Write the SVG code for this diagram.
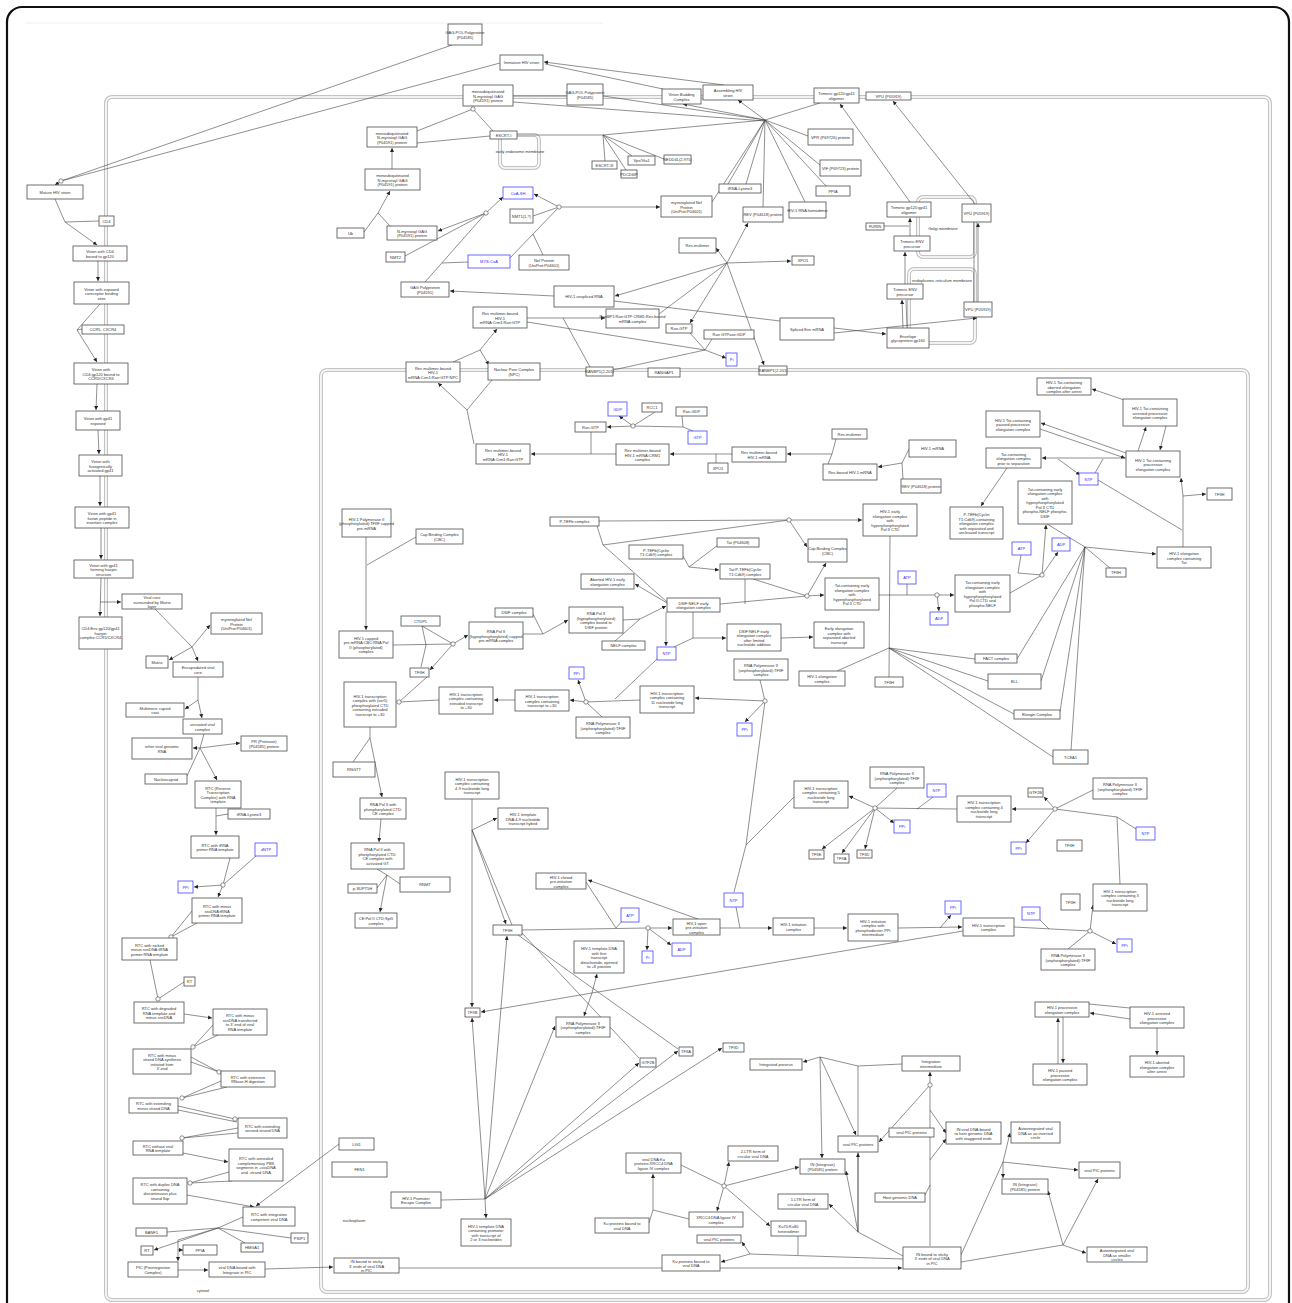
<svg xmlns="http://www.w3.org/2000/svg" width="1292" height="1303" viewBox="0 0 1292 1303">
<defs>
<marker id="ah" viewBox="0 0 10 10" refX="10" refY="5" markerWidth="4" markerHeight="4" markerUnits="userSpaceOnUse" orient="auto"><path d="M0,0 L10,5 L0,10 z" fill="#222"/></marker>
<style>
.nd rect{fill:#fff;stroke:#4d4d4d;stroke-width:0.8}
.nd text{font-family:"Liberation Sans",Arial,sans-serif;font-size:4px;fill:#333;text-anchor:middle;dominant-baseline:central}
.bl rect{stroke:#4848ff}
.bl text{fill:#2b2bff}
.cn path{fill:none;stroke:#444;stroke-width:0.6}
.cn .a{marker-end:url(#ah)}
.hub{fill:#fff;stroke:#444;stroke-width:0.6}
.cmp{fill:none;stroke:#c4c4c4;stroke-width:4}
.cmpi{fill:none;stroke:#fff;stroke-width:1.6}
.lbl{font-family:"Liberation Sans",Arial,sans-serif;font-size:4px;fill:#333}
</style>
</defs>
<rect width="1292" height="1303" fill="#fff"/>
<rect x="7" y="7" width="1282" height="1320" rx="15" fill="none" stroke="#111" stroke-width="2.2"/>
<line x1="25" y1="23" x2="603" y2="23" stroke="#eee" stroke-width="1"/>
<g id="compartments">
<rect class="cmp" x="106" y="97" width="1164" height="1203" rx="6"/><rect class="cmpi" x="106" y="97" width="1164" height="1203" rx="6"/>
<rect class="cmp" x="321" y="370" width="927" height="922" rx="6"/><rect class="cmpi" x="321" y="370" width="927" height="922" rx="6"/>
<rect class="cmp" x="918" y="197" width="57" height="60" rx="5"/><rect class="cmpi" x="918" y="197" width="57" height="60" rx="5"/>
<rect class="cmp" x="909" y="269" width="66" height="74" rx="5"/><rect class="cmpi" x="909" y="269" width="66" height="74" rx="5"/>
<rect class="cmp" x="500" y="135" width="39" height="33" rx="5"/><rect class="cmpi" x="500" y="135" width="39" height="33" rx="5"/>
<text class="lbl" x="203" y="1292" text-anchor="middle">cytosol</text>
<text class="lbl" x="354" y="1222" text-anchor="middle">nucleoplasm</text>
<text class="lbl" x="943" y="230" text-anchor="middle">Golgi membrane</text>
<text class="lbl" x="912" y="282">endoplasmic reticulum membrane</text>
<text class="lbl" x="520" y="153" text-anchor="middle">early endosome membrane</text>
</g>
<g id="connectors" class="cn">
<path d="M452 45 L61 181"/><path d="M500 63 L61 181"/><path class="a" d="M61 181 L55 185"/>
<path class="a" d="M724 85 L544 62"/><path d="M663 89 L545 64"/>
<path d="M513 96 L567 96"/><path d="M603 96 L765 120"/><path d="M513 102 L765 121"/>
<path d="M517 135 L603 135"/><path d="M603 135 L765 120"/>
<path d="M603 135 L605 161"/><path d="M603 135 L632 156"/><path d="M603 135 L626 170"/><path d="M603 135 L664 159"/>
<path class="a" d="M765 120 L683 104"/><path class="a" d="M765 120 L738 100"/><path d="M765 120 L820 103"/><path d="M765 120 L808 136"/><path d="M765 120 L820 165"/><path d="M765 120 L826 186"/><path d="M765 120 L805 202"/><path d="M765 120 L763 207"/><path d="M765 120 L728 184"/><path d="M765 120 L746 184"/><path d="M765 120 L712 202"/>
<path d="M417 131 L473 109"/><path d="M493 131 L473 109"/>
<path d="M417 143 L490 136"/>
<path class="a" d="M392 169 L392 148"/>
<path d="M364 232 L378 213"/><path d="M390 226 L378 213"/><path class="a" d="M378 213 L390 191"/>
<path class="a" d="M486 213 L438 231"/><path d="M405 256 L486 213"/><path d="M425 282 L486 213"/><path class="a" d="M486 213 L503 197"/><path d="M468 262 L442 263"/>
<path class="a" d="M559 207 L534 194"/><path d="M533 216 L559 207"/><path d="M510 258 L559 207"/><path d="M543 255 L533 234"/><path class="a" d="M559 207 L660 207"/>
<path class="a" d="M727 263 L716 248"/><path class="a" d="M727 263 L791 261"/><path class="a" d="M727 263 L748 223"/><path class="a" d="M727 263 L690 323"/><path class="a" d="M727 263 L764 365"/><path class="a" d="M727 263 L615 296"/><path d="M659 314 L727 263"/>
<path d="M614 301 L780 321"/>
<path class="a" d="M554 296 L450 291"/>
<path class="a" d="M527 318 L605 318"/><path d="M590 367 L563 318"/>
<path d="M527 322 L705 350"/><path d="M613 370 L705 350"/><path d="M690 333 L705 350"/><path class="a" d="M705 350 L726 358"/><path d="M705 350 L712 339"/>
<path d="M453 362 L480 350"/><path class="a" d="M480 350 L497 329"/><path class="a" d="M480 350 L489 365"/>
<path class="a" d="M467 410 L438 383"/><path d="M492 380 L467 410"/><path d="M474 444 L467 410"/>
<path class="a" d="M616 454 L531 454"/><path d="M591 432 L591 454"/>
<path class="a" d="M633 426 L607 427"/><path class="a" d="M633 426 L619 416"/><path d="M655 412 L633 426"/><path d="M683 427 L633 426"/><path d="M682 416 L683 427"/><path d="M693 431 L683 427"/>
<path class="a" d="M732 454 L670 454"/><path d="M716 463 L716 454"/>
<path class="a" d="M832 454 L787 454"/><path d="M836 439 L832 454"/><path d="M828 464 L832 454"/>
<path class="a" d="M902 463 L878 467"/><path d="M909 449 L902 463"/><path d="M903 479 L902 463"/>
<path class="a" d="M834 328 L886 334"/><path class="a" d="M834 333 L977 318"/>
<path class="a" d="M903 328 L902 300"/><path d="M907 328 L906 300"/>
<path class="a" d="M905 284 L905 252"/>
<path class="a" d="M910 236 L910 218"/><path d="M884 226 L909 226"/>
<path class="a" d="M910 202 L840 104"/>
<path class="a" d="M975 204 L893 101"/>
<path class="a" d="M978 302 L978 223"/><path d="M974 302 L974 222"/>
<path class="a" d="M55 199 L65 222 L97 245"/><path d="M99 221 L65 222"/>
<path class="a" d="M98 261 L98 281"/>
<path class="a" d="M100 304 L77 330 L97 362"/><path d="M82 329 L77 330"/>
<path class="a" d="M97 384 L96 410"/>
<path class="a" d="M98 430 L99 454"/>
<path class="a" d="M100 476 L100 506"/>
<path class="a" d="M101 528 L101 559"/>
<path class="a" d="M101 578 L100 616"/><path class="a" d="M100 602 L121 602"/>
<path class="a" d="M155 609 L192 647 L198 661"/><path class="a" d="M192 647 L169 660"/><path class="a" d="M192 647 L210 625"/>
<path class="a" d="M198 677 L198 700 L185 709"/><path class="a" d="M198 700 L202 718"/>
<path d="M204 734 L200 748"/><path class="a" d="M200 748 L193 748"/><path class="a" d="M200 748 L240 743"/><path d="M200 748 L187 776"/><path class="a" d="M200 748 L217 780"/>
<path class="a" d="M216 808 L216 816 L216 835"/><path d="M228 814 L216 816"/>
<path d="M230 858 L223 885"/><path d="M256 856 L223 885"/><path class="a" d="M223 885 L194 887"/><path class="a" d="M223 885 L218 897"/>
<path d="M192 911 L171 937"/><path d="M197 923 L171 937"/>
<path d="M150 960 L158 999"/><path d="M184 982 L158 999"/>
<path class="a" d="M184 1014 L212 1018"/>
<path d="M213 1025 L193 1047"/><path d="M218 1035 L193 1047"/>
<path d="M191 1057 L219 1072"/><path d="M191 1062 L219 1072"/>
<path d="M221 1081 L182 1098"/><path d="M227 1087 L182 1098"/>
<path d="M178 1106 L235 1119"/><path d="M178 1110 L237 1122"/>
<path d="M238 1128 L182 1138"/><path d="M238 1133 L182 1138"/>
<path class="a" d="M183 1153 L228 1162"/>
<path d="M229 1172 L190 1183"/><path d="M232 1181 L190 1183"/>
<path class="a" d="M187 1195 L254 1207"/>
<path class="a" d="M339 1144 L256 1206"/>
<path d="M243 1217 L218 1228"/><path d="M218 1228 L167 1232"/><path d="M218 1228 L291 1238"/><path d="M218 1228 L245 1243"/><path class="a" d="M218 1228 L154 1250"/><path class="a" d="M218 1228 L178 1240 L178 1261"/><path class="a" d="M178 1250 L183 1250"/>
<path class="a" d="M178 1270 L208 1270"/>
<path class="a" d="M265 1269 L333 1267"/>
<path class="a" d="M399 1268 L902 1268"/>
<path class="a" d="M366 537 L366 630"/><path d="M416 537 L367 565"/>
<path d="M393 645 L453 644"/><path d="M422 626 L453 644"/><path d="M422 626 L426 645 L421 667"/><path class="a" d="M453 644 L468 635"/><path class="a" d="M453 644 L430 670"/>
<path d="M439 700 L399 702"/><path d="M427 677 L399 702"/><path d="M399 702 L397 702"/>
<path class="a" d="M523 634 L543 634 L568 620"/><path d="M533 614 L543 634"/>
<path class="a" d="M623 620 L640 619 L666 606"/><path d="M615 641 L640 619"/>
<path d="M597 526 L603 545 L667 602"/><path d="M603 545 L640 540 L789 520"/><path d="M599 521 L789 520"/><path class="a" d="M789 520 L862 520"/><path class="a" d="M789 520 L807 547"/>
<path class="a" d="M667 603 L635 584"/>
<path class="a" d="M683 556 L689 567 L719 570"/><path d="M718 545 L689 567"/>
<path d="M753 579 L807 596"/><path d="M720 604 L807 596"/><path d="M745 579 L745 604"/><path class="a" d="M807 596 L824 595"/><path class="a" d="M807 596 L826 563"/>
<path class="a" d="M693 612 L693 638 L726 638"/><path d="M674 647 L693 638"/><path class="a" d="M666 612 L666 646"/>
<path class="a" d="M781 638 L813 637"/>
<path d="M890 536 L889 677"/><path d="M837 671 L889 648"/><path d="M889 648 L975 659"/><path d="M889 648 L988 681"/><path d="M889 648 L1014 714"/><path d="M889 648 L1053 757"/>
<path class="a" d="M879 595 L937 595 L954 595"/><path d="M907 584 L907 595"/><path class="a" d="M937 595 L939 611"/>
<path d="M1010 593 L1042 575"/><path d="M1021 555 L1018 573 L1042 575"/><path class="a" d="M1042 575 L1046 525"/><path class="a" d="M1042 575 L1058 552"/>
<path d="M1047 524 L1085 547"/><path class="a" d="M1085 547 L1156 554"/><path d="M1085 547 L1110 568"/><path d="M1085 547 L1017 659"/><path d="M1085 547 L1041 681"/><path d="M1085 547 L1060 712"/><path d="M1085 547 L1071 750"/>
<path class="a" d="M1183 547 L1183 496 L1181 478"/><path class="a" d="M1183 496 L1206 494"/><path d="M1098 480 L1182 530"/>
<path class="a" d="M1126 458 L1042 458"/><path class="a" d="M1058 459 L1080 475"/><path d="M1095 473 L1103 459"/>
<path class="a" d="M1007 468 L981 506"/>
<path class="a" d="M1138 451 L1146 427"/><path class="a" d="M1166 426 L1160 450"/>
<path class="a" d="M1130 402 L1092 389"/>
<path class="a" d="M1126 453 L1041 423"/><path class="a" d="M1040 429 L1125 458"/>
<path d="M640 700 L586 702"/><path class="a" d="M586 702 L570 700"/><path d="M602 717 L586 702"/><path class="a" d="M586 702 L578 680"/><path d="M615 699 L657 659"/>
<path class="a" d="M515 700 L494 700"/>
<path d="M760 680 L765 701"/><path class="a" d="M765 701 L695 698"/><path class="a" d="M765 701 L745 722"/><path d="M765 701 L746 845"/><path d="M794 797 L746 845"/><path d="M746 845 L734 892"/>
<path class="a" d="M370 727 L370 738 L382 797"/><path d="M353 762 L370 738"/>
<path class="a" d="M381 819 L379 842"/>
<path class="a" d="M377 869 L387 875 L380 912"/><path d="M377 888 L387 875"/><path d="M400 884 L387 875"/>
<path class="a" d="M472 799 L472 830 L472 1007"/><path class="a" d="M472 830 L497 818"/><path class="a" d="M472 830 L506 924"/><path d="M472 830 L512 925"/>
<path class="a" d="M963 931 L592 993 L481 1012"/><path class="a" d="M592 993 L597 974"/><path class="a" d="M592 993 L584 1016"/>
<path class="a" d="M485 1199 L472 1018"/><path class="a" d="M485 1199 L507 936"/><path class="a" d="M485 1199 L555 1026"/><path class="a" d="M485 1199 L639 1063"/><path class="a" d="M485 1199 L678 1051"/><path class="a" d="M485 1199 L722 1048"/><path d="M441 1200 L485 1199"/><path class="a" d="M485 1199 L486 1218"/>
<path d="M522 930 L648 928"/><path d="M586 882 L616 928"/><path d="M622 921 L616 928"/><path class="a" d="M648 928 L647 950"/><path class="a" d="M648 928 L671 945"/><path class="a" d="M648 928 L672 928"/><path class="a" d="M698 919 L588 880"/>
<path d="M518 935 L678 1049"/><path d="M522 933 L639 1058"/>
<path class="a" d="M720 928 L772 928"/><path d="M736 907 L740 928"/>
<path class="a" d="M814 928 L847 928"/>
<path class="a" d="M898 928 L962 927"/><path class="a" d="M940 928 L951 915"/>
<path d="M1014 927 L1090 931"/><path d="M1040 920 L1049 929"/><path d="M1068 949 L1090 931"/><path class="a" d="M1090 931 L1093 905"/><path class="a" d="M1090 931 L1116 944"/>
<path d="M1120 884 L1117 817 L1055 809"/><path d="M1136 829 L1117 817"/><path class="a" d="M1055 809 L1012 809"/><path class="a" d="M1055 809 L1044 797"/><path class="a" d="M1055 809 L1026 843"/><path d="M1093 790 L1055 809"/>
<path d="M957 809 L875 808"/><path d="M933 797 L917 809"/><path d="M897 788 L875 808"/><path class="a" d="M875 808 L849 796"/><path class="a" d="M875 808 L894 823"/><path class="a" d="M875 808 L822 849"/><path class="a" d="M875 808 L842 853"/><path class="a" d="M875 808 L865 849"/>
<path d="M1089 1004 L1130 1008"/><path class="a" d="M1130 1019 L1090 1013"/><path class="a" d="M1157 1028 L1157 1055"/><path class="a" d="M1058 1064 L1058 1018"/><path class="a" d="M1063 1017 L1063 1063"/>
<path class="a" d="M820 1057 L803 1062"/><path class="a" d="M820 1057 L822 1158"/><path class="a" d="M820 1057 L856 1135"/><path d="M820 1057 L858 1066"/><path d="M902 1064 L858 1066"/><path d="M858 1066 L858 1232"/><path class="a" d="M858 1232 L858 1153"/>
<path class="a" d="M858 1232 L829 1204"/><path class="a" d="M858 1232 L846 1171"/><path d="M903 1256 L873 1240 L858 1232"/>
<path class="a" d="M930 1085 L930 1072"/><path class="a" d="M930 1085 L879 1142"/><path d="M930 1085 L930 1246"/><path class="a" d="M930 1110 L946 1133"/><path d="M925 1195 L930 1185"/><path class="a" d="M930 1160 L946 1139"/>
<path d="M961 1255 L1003 1162"/><path class="a" d="M1003 1162 L1010 1133"/><path class="a" d="M1003 1162 L1078 1170"/><path class="a" d="M1003 1162 L1003 1178"/>
<path d="M961 1262 L1063 1245"/><path class="a" d="M1063 1245 L1086 1253"/><path class="a" d="M1063 1245 L1098 1179"/><path class="a" d="M1063 1245 L1048 1191"/>
<path d="M681 1165 L724 1186"/><path class="a" d="M724 1186 L729 1162"/><path class="a" d="M724 1186 L717 1211"/><path class="a" d="M724 1186 L770 1226"/><path class="a" d="M724 1186 L799 1167"/>
<path class="a" d="M649 1223 L653 1210 L653 1174"/><path d="M689 1219 L653 1210"/>
<path d="M903 1259 L750 1254"/><path class="a" d="M750 1254 L721 1262"/><path class="a" d="M750 1254 L742 1242"/><path d="M798 1236 L798 1255"/>
<circle class="hub" cx="61" cy="181" r="2.2"/><circle class="hub" cx="473" cy="109" r="2.2"/><circle class="hub" cx="486" cy="213" r="2.2"/><circle class="hub" cx="559" cy="207" r="2.2"/><circle class="hub" cx="633" cy="426" r="2.2"/><circle class="hub" cx="453" cy="644" r="2.2"/><circle class="hub" cx="399" cy="702" r="2.2"/><circle class="hub" cx="586" cy="702" r="2.2"/><circle class="hub" cx="765" cy="701" r="2.2"/><circle class="hub" cx="789" cy="520" r="2.2"/><circle class="hub" cx="807" cy="596" r="2.2"/><circle class="hub" cx="937" cy="595" r="2.2"/><circle class="hub" cx="1042" cy="575" r="2.2"/><circle class="hub" cx="875" cy="808" r="2.2"/><circle class="hub" cx="1055" cy="809" r="2.2"/><circle class="hub" cx="1090" cy="931" r="2.2"/><circle class="hub" cx="648" cy="928" r="2.2"/><circle class="hub" cx="930" cy="1085" r="2.2"/><circle class="hub" cx="724" cy="1186" r="2.2"/><circle class="hub" cx="223" cy="885" r="2.2"/><circle class="hub" cx="171" cy="937" r="2.2"/><circle class="hub" cx="158" cy="999" r="2.2"/><circle class="hub" cx="193" cy="1047" r="2.2"/><circle class="hub" cx="219" cy="1072" r="2.2"/><circle class="hub" cx="182" cy="1098" r="2.2"/><circle class="hub" cx="235" cy="1119" r="2.2"/><circle class="hub" cx="182" cy="1138" r="2.2"/><circle class="hub" cx="190" cy="1183" r="2.2"/>
</g>
<g id="nodes">
<g id="n_mature" class="nd"><rect x="27" y="185" width="56" height="14"/><text x="55" y="192">Mature HIV virion</text></g>
<g id="n_cd4" class="nd"><rect x="99" y="216" width="15" height="10"/><text x="106.5" y="221">CD4</text></g>
<g id="n_v_cd4" class="nd"><rect x="73" y="246" width="54" height="15"/><text x="100" y="251.25"><tspan x="100">Virion with CD4</tspan><tspan x="100" dy="4.5">bound to gp120</tspan></text></g>
<g id="n_v_exp" class="nd"><rect x="74" y="282" width="55" height="22"/><text x="101.5" y="288.5"><tspan x="101.5">Virion with exposed</tspan><tspan x="101.5" dy="4.5">coreceptor binding</tspan><tspan x="101.5" dy="4.5">sites</tspan></text></g>
<g id="n_ccr5" class="nd"><rect x="82" y="325" width="42" height="9"/><text x="103" y="329.5">CCR5, CXCR4</text></g>
<g id="n_v_ccr5" class="nd"><rect x="74" y="363" width="54" height="21"/><text x="101" y="369"><tspan x="101">Virion with</tspan><tspan x="101" dy="4.5">CD4:gp120 bound to</tspan><tspan x="101" dy="4.5">CCR5/CXCR4</tspan></text></g>
<g id="n_gp41" class="nd"><rect x="76" y="411" width="44" height="19"/><text x="98" y="418.25"><tspan x="98">Virion with gp41</tspan><tspan x="98" dy="4.5">exposed</tspan></text></g>
<g id="n_fuso" class="nd"><rect x="79" y="455" width="43" height="21"/><text x="100.5" y="461"><tspan x="100.5">Virion with</tspan><tspan x="100.5" dy="4.5">fusogenically</tspan><tspan x="100.5" dy="4.5">activated gp41</tspan></text></g>
<g id="n_fusion" class="nd"><rect x="75" y="507" width="54" height="21"/><text x="102" y="513"><tspan x="102">Virion with gp41</tspan><tspan x="102" dy="4.5">fusion peptide in</tspan><tspan x="102" dy="4.5">insertion complex</tspan></text></g>
<g id="n_hairpin" class="nd"><rect x="74" y="560" width="59" height="18"/><text x="103.5" y="564.5"><tspan x="103.5">Virion with gp41</tspan><tspan x="103.5" dy="4.5">forming hairpin</tspan><tspan x="103.5" dy="4.5">structure</tspan></text></g>
<g id="n_cd4env" class="nd"><rect x="79" y="617" width="43" height="32"/><text x="100.5" y="628"><tspan x="100.5">CD4:Env gp120/gp41</tspan><tspan x="100.5" dy="4.5">hairpin</tspan><tspan x="100.5" dy="4.5">complex:CCR5/CXCR4</tspan></text></g>
<g id="n_core" class="nd"><rect x="122" y="594" width="60" height="15"/><text x="152" y="597"><tspan x="152">Viral core</tspan><tspan x="152" dy="4.5">surrounded by Matrix</tspan><tspan x="152" dy="4.5">layer</tspan></text></g>
<g id="n_mnef1" class="nd"><rect x="211" y="613" width="51" height="21"/><text x="236.5" y="619"><tspan x="236.5">myristoylated Nef</tspan><tspan x="236.5" dy="4.5">Protein</tspan><tspan x="236.5" dy="4.5">(UniProt:P04601)</tspan></text></g>
<g id="n_matrix" class="nd"><rect x="146" y="656" width="22" height="12"/><text x="157" y="662">Matrix</text></g>
<g id="n_encap" class="nd"><rect x="173" y="662" width="50" height="15"/><text x="198" y="667.25"><tspan x="198">Encapsidated viral</tspan><tspan x="198" dy="4.5">core</tspan></text></g>
<g id="n_capsid" class="nd"><rect x="126" y="703" width="58" height="14"/><text x="155" y="707.75"><tspan x="155">Multimeric capsid</tspan><tspan x="155" dy="4.5">coat</tspan></text></g>
<g id="n_uncoat" class="nd"><rect x="183" y="719" width="39" height="15"/><text x="202.5" y="724.25"><tspan x="202.5">uncoated viral</tspan><tspan x="202.5" dy="4.5">complex</tspan></text></g>
<g id="n_othrna" class="nd"><rect x="132" y="738" width="60" height="21"/><text x="162" y="746.25"><tspan x="162">other viral genomic</tspan><tspan x="162" dy="4.5">RNA</tspan></text></g>
<g id="n_pr" class="nd"><rect x="241" y="736" width="46" height="15"/><text x="264" y="741.25"><tspan x="264">PR (Protease)</tspan><tspan x="264" dy="4.5">(P04585) protein</tspan></text></g>
<g id="n_ncap" class="nd"><rect x="145" y="774" width="42" height="10"/><text x="166" y="779">Nucleocapsid</text></g>
<g id="n_rtc" class="nd"><rect x="195" y="781" width="46" height="27"/><text x="218" y="787.75"><tspan x="218">RTC (Reverse</tspan><tspan x="218" dy="4.5">Transcription</tspan><tspan x="218" dy="4.5">Complex) with RNA</tspan><tspan x="218" dy="4.5">template</tspan></text></g>
<g id="n_trna1" class="nd"><rect x="228" y="809" width="42" height="10"/><text x="249" y="814">tRNA-Lysine3</text></g>
<g id="n_rtc_trna" class="nd"><rect x="191" y="836" width="48" height="22"/><text x="215" y="844.75"><tspan x="215">RTC with tRNA</tspan><tspan x="215" dy="4.5">primer:RNA template</tspan></text></g>
<g id="n_dntp" class="nd bl"><rect x="255" y="843" width="22" height="13"/><text x="266" y="849.5">dNTP</text></g>
<g id="n_ppi1" class="nd bl"><rect x="178" y="881" width="15" height="12"/><text x="185.5" y="887">PPi</text></g>
<g id="n_rtc_minus" class="nd"><rect x="192" y="898" width="50" height="25"/><text x="217" y="906"><tspan x="217">RTC with minus</tspan><tspan x="217" dy="4.5">sssDNA:tRNA</tspan><tspan x="217" dy="4.5">primer:RNA template</tspan></text></g>
<g id="n_rtc_nick" class="nd"><rect x="122" y="938" width="55" height="22"/><text x="149.5" y="944.5"><tspan x="149.5">RTC with nicked</tspan><tspan x="149.5" dy="4.5">minus sssDNA:tRNA</tspan><tspan x="149.5" dy="4.5">primer:RNA template</tspan></text></g>
<g id="n_rt1" class="nd"><rect x="184" y="977" width="11" height="9"/><text x="189.5" y="981.5">RT</text></g>
<g id="n_rtc_deg" class="nd"><rect x="134" y="1002" width="50" height="21"/><text x="159" y="1008"><tspan x="159">RTC with degraded</tspan><tspan x="159" dy="4.5">RNA template and</tspan><tspan x="159" dy="4.5">minus sssDNA</tspan></text></g>
<g id="n_rtc_trans" class="nd"><rect x="213" y="1009" width="54" height="26"/><text x="240" y="1015.25"><tspan x="240">RTC with minus</tspan><tspan x="240" dy="4.5">sssDNA transferred</tspan><tspan x="240" dy="4.5">to 3'-end of viral</tspan><tspan x="240" dy="4.5">RNA template</tspan></text></g>
<g id="n_rtc_init" class="nd"><rect x="133" y="1049" width="58" height="25"/><text x="162" y="1054.75"><tspan x="162">RTC with minus</tspan><tspan x="162" dy="4.5">strand DNA synthesis</tspan><tspan x="162" dy="4.5">initiated from</tspan><tspan x="162" dy="4.5">3'-end</tspan></text></g>
<g id="n_rtc_ext" class="nd"><rect x="221" y="1071" width="54" height="16"/><text x="248" y="1076.75"><tspan x="248">RTC with extensive</tspan><tspan x="248" dy="4.5">RNase-H digestion</tspan></text></g>
<g id="n_rtc_extm" class="nd"><rect x="129" y="1098" width="49" height="15"/><text x="153.5" y="1103.25"><tspan x="153.5">RTC with extending</tspan><tspan x="153.5" dy="4.5">minus strand DNA</tspan></text></g>
<g id="n_rtc_ext2" class="nd"><rect x="238" y="1118" width="49" height="20"/><text x="262.5" y="1125.75"><tspan x="262.5">RTC with extending</tspan><tspan x="262.5" dy="4.5">second-strand DNA</tspan></text></g>
<g id="n_rtc_wo" class="nd"><rect x="133" y="1141" width="50" height="14"/><text x="158" y="1145.75"><tspan x="158">RTC without viral</tspan><tspan x="158" dy="4.5">RNA template</tspan></text></g>
<g id="n_rtc_ann" class="nd"><rect x="229" y="1149" width="54" height="32"/><text x="256" y="1158.25"><tspan x="256">RTC with annealed</tspan><tspan x="256" dy="4.5">complementary PBS</tspan><tspan x="256" dy="4.5">segments in +sssDNA</tspan><tspan x="256" dy="4.5">and -strand DNA</tspan></text></g>
<g id="n_rtc_dup" class="nd"><rect x="133" y="1178" width="54" height="26"/><text x="160" y="1184.25"><tspan x="160">RTC with duplex DNA</tspan><tspan x="160" dy="4.5">containing</tspan><tspan x="160" dy="4.5">discontinuous plus</tspan><tspan x="160" dy="4.5">strand flap</tspan></text></g>
<g id="n_rtc_int" class="nd"><rect x="243" y="1207" width="52" height="19"/><text x="269" y="1214.25"><tspan x="269">RTC with integration</tspan><tspan x="269" dy="4.5">competent viral DNA</tspan></text></g>
<g id="n_banf1" class="nd"><rect x="136" y="1228" width="31" height="8"/><text x="151.5" y="1232">BANF1</text></g>
<g id="n_psip1" class="nd"><rect x="291" y="1233" width="17" height="10"/><text x="299.5" y="1238">PSIP1</text></g>
<g id="n_hmga1" class="nd"><rect x="241" y="1243" width="22" height="9"/><text x="252" y="1247.5">HMGA1</text></g>
<g id="n_rt2" class="nd"><rect x="141" y="1246" width="12" height="9"/><text x="147" y="1250.5">RT</text></g>
<g id="n_ppia1" class="nd"><rect x="183" y="1245" width="34" height="10"/><text x="200" y="1250">PPIA</text></g>
<g id="n_pic" class="nd"><rect x="128" y="1262" width="50" height="15"/><text x="153" y="1267.25"><tspan x="153">PIC (Preintegration</tspan><tspan x="153" dy="4.5">Complex)</tspan></text></g>
<g id="n_vdna_in" class="nd"><rect x="209" y="1262" width="56" height="15"/><text x="237" y="1267.25"><tspan x="237">viral DNA bound with</tspan><tspan x="237" dy="4.5">Integrase in PIC</tspan></text></g>
<g id="n_gagpol1" class="nd"><rect x="448" y="24" width="34" height="21"/><text x="465" y="32.25"><tspan x="465">GAG-POL Polyprotein</tspan><tspan x="465" dy="4.5">(P04585)</tspan></text></g>
<g id="n_immature" class="nd"><rect x="500" y="55" width="43" height="15"/><text x="521.5" y="62.5">Immature HIV virion</text></g>
<g id="n_mono1" class="nd"><rect x="463" y="85" width="50" height="21"/><text x="488" y="91"><tspan x="488">monoubiquitinated</tspan><tspan x="488" dy="4.5">N-myristoyl GAG</tspan><tspan x="488" dy="4.5">(P04591) protein</tspan></text></g>
<g id="n_gagpol2" class="nd"><rect x="567" y="84" width="36" height="21"/><text x="585" y="92.25"><tspan x="585">GAG-POL Polyprotein</tspan><tspan x="585" dy="4.5">(P04585)</tspan></text></g>
<g id="n_mono2" class="nd"><rect x="367" y="127" width="50" height="20"/><text x="392" y="132.5"><tspan x="392">monoubiquitinated</tspan><tspan x="392" dy="4.5">N-myristoyl GAG</tspan><tspan x="392" dy="4.5">(P04591) protein</tspan></text></g>
<g id="n_escrt1" class="nd"><rect x="490" y="131" width="27" height="8"/><text x="503.5" y="135">ESCRT-I</text></g>
<g id="n_mono3" class="nd"><rect x="365" y="169" width="55" height="21"/><text x="392.5" y="175"><tspan x="392.5">monoubiquitinated</tspan><tspan x="392.5" dy="4.5">N-myristoyl GAG</tspan><tspan x="392.5" dy="4.5">(P04591) protein</tspan></text></g>
<g id="n_escrt3" class="nd"><rect x="592" y="161" width="25" height="8"/><text x="604.5" y="165">ESCRT-III</text></g>
<g id="n_vps" class="nd"><rect x="628" y="156" width="27" height="9"/><text x="641.5" y="160.5">Vps/Vta1</text></g>
<g id="n_pdcd" class="nd"><rect x="621" y="170" width="16" height="8"/><text x="629" y="174">PDCD6IP</text></g>
<g id="n_nedd" class="nd"><rect x="664" y="155" width="27" height="9"/><text x="677.5" y="159.5">NEDD4L(2-975)</text></g>
<g id="n_coash" class="nd bl"><rect x="503" y="187" width="30" height="12"/><text x="518" y="193">CoA-SH</text></g>
<g id="n_nmt1" class="nd"><rect x="510" y="209" width="23" height="14"/><text x="521.5" y="216">NMT1(1-?)</text></g>
<g id="n_ub" class="nd"><rect x="337" y="228" width="27" height="10"/><text x="350.5" y="233">Ub</text></g>
<g id="n_nmyr" class="nd"><rect x="387" y="226" width="50" height="14"/><text x="412" y="230.75"><tspan x="412">N-myristoyl GAG</tspan><tspan x="412" dy="4.5">(P04591) protein</tspan></text></g>
<g id="n_nmt2" class="nd"><rect x="386" y="252" width="19" height="10"/><text x="395.5" y="257">NMT2</text></g>
<g id="n_myscoa" class="nd bl"><rect x="468" y="255" width="42" height="13"/><text x="489" y="261.5">MYS-CoA</text></g>
<g id="n_nef" class="nd"><rect x="519" y="255" width="50" height="15"/><text x="544" y="260.25"><tspan x="544">Nef Protein</tspan><tspan x="544" dy="4.5">(UniProt:P04601)</tspan></text></g>
<g id="n_gagp" class="nd"><rect x="401" y="282" width="48" height="15"/><text x="425" y="287.25"><tspan x="425">GAG Polyprotein</tspan><tspan x="425" dy="4.5">(P04591)</tspan></text></g>
<g id="n_unspl" class="nd"><rect x="554" y="286" width="60" height="21"/><text x="584" y="296.5">HIV-1 unspliced RNA</text></g>
<g id="n_revc1" class="nd"><rect x="473" y="307" width="54" height="21"/><text x="500" y="313"><tspan x="500">Rev multimer-bound</tspan><tspan x="500" dy="4.5">HIV-1</tspan><tspan x="500" dy="4.5">mRNA:Crm1:Ran:GTP</tspan></text></g>
<g id="n_ranbp1c" class="nd"><rect x="606" y="309" width="53" height="19"/><text x="632.5" y="316.25"><tspan x="632.5">RanBP1:Ran:GTP:CRM1:Rev-bound</tspan><tspan x="632.5" dy="4.5">mRNA complex</tspan></text></g>
<g id="n_revnpc" class="nd"><rect x="406" y="362" width="54" height="20"/><text x="433" y="367.5"><tspan x="433">Rev multimer-bound</tspan><tspan x="433" dy="4.5">HIV-1</tspan><tspan x="433" dy="4.5">mRNA:Crm1:Ran:GTP:NPC</tspan></text></g>
<g id="n_npc" class="nd"><rect x="488" y="363" width="52" height="17"/><text x="514" y="369.25"><tspan x="514">Nuclear Pore Complex</tspan><tspan x="514" dy="4.5">(NPC)</tspan></text></g>
<g id="n_ranbp_a" class="nd"><rect x="586" y="367" width="27" height="9"/><text x="599.5" y="371.5">RANBP1(2-201)</text></g>
<g id="n_rangap" class="nd"><rect x="648" y="368" width="32" height="9"/><text x="664" y="372.5">RANGAP1</text></g>
<g id="n_ranbp_b" class="nd"><rect x="759" y="366" width="28" height="9"/><text x="773" y="370.5">RANBP1(2-201)</text></g>
<g id="n_vbc" class="nd"><rect x="662" y="89" width="39" height="15"/><text x="681.5" y="94.25"><tspan x="681.5">Virion Budding</tspan><tspan x="681.5" dy="4.5">Complex</tspan></text></g>
<g id="n_assem" class="nd"><rect x="703" y="85" width="50" height="15"/><text x="728" y="90.25"><tspan x="728">Assembling HIV</tspan><tspan x="728" dy="4.5">virion</tspan></text></g>
<g id="n_trim1" class="nd"><rect x="814" y="88" width="45" height="15"/><text x="836.5" y="93.25"><tspan x="836.5">Trimeric gp120:gp41</tspan><tspan x="836.5" dy="4.5">oligomer</tspan></text></g>
<g id="n_vpu1" class="nd"><rect x="866" y="92" width="45" height="8"/><text x="888.5" y="96">VPU (P05919)</text></g>
<g id="n_vpr" class="nd"><rect x="808" y="129" width="45" height="16"/><text x="830.5" y="137">VPR (P69726) protein</text></g>
<g id="n_vif" class="nd"><rect x="820" y="160" width="41" height="16"/><text x="840.5" y="168">VIF (P69723) protein</text></g>
<g id="n_trna2" class="nd"><rect x="719" y="184" width="42" height="9"/><text x="740" y="188.5">tRNA-Lysine3</text></g>
<g id="n_ppia2" class="nd"><rect x="816" y="186" width="34" height="10"/><text x="833" y="191">PPIA</text></g>
<g id="n_mnef2" class="nd"><rect x="661" y="196" width="51" height="21"/><text x="686.5" y="202"><tspan x="686.5">myristoylated Nef</tspan><tspan x="686.5" dy="4.5">Protein</tspan><tspan x="686.5" dy="4.5">(UniProt:P04601)</tspan></text></g>
<g id="n_homod" class="nd"><rect x="789" y="202" width="37" height="16"/><text x="807.5" y="210">HIV-1 RNA homodimer</text></g>
<g id="n_rev1" class="nd"><rect x="743" y="207" width="40" height="15"/><text x="763" y="214.5">REV (P04618) protein</text></g>
<g id="n_trim2" class="nd"><rect x="887" y="202" width="44" height="15"/><text x="909" y="207.25"><tspan x="909">Trimeric gp120:gp41</tspan><tspan x="909" dy="4.5">oligomer</tspan></text></g>
<g id="n_furin" class="nd"><rect x="866" y="223" width="18" height="7"/><text x="875" y="226.5">FURIN</text></g>
<g id="n_vpu2" class="nd"><rect x="962" y="204" width="29" height="18"/><text x="976.5" y="213">VPU (P05919)</text></g>
<g id="n_env1" class="nd"><rect x="894" y="236" width="36" height="15"/><text x="912" y="241.25"><tspan x="912">Trimeric ENV</tspan><tspan x="912" dy="4.5">precursor</tspan></text></g>
<g id="n_revm1" class="nd"><rect x="679" y="238" width="37" height="15"/><text x="697.5" y="245.5">Rev-multimer</text></g>
<g id="n_xpo1a" class="nd"><rect x="792" y="256" width="22" height="9"/><text x="803" y="260.5">XPO1</text></g>
<g id="n_env2" class="nd"><rect x="887" y="284" width="36" height="15"/><text x="905" y="289.25"><tspan x="905">Trimeric ENV</tspan><tspan x="905" dy="4.5">precursor</tspan></text></g>
<g id="n_vpu3" class="nd"><rect x="964" y="302" width="28" height="15"/><text x="978" y="309.5">VPU (P05919)</text></g>
<g id="n_splenv" class="nd"><rect x="780" y="318" width="54" height="22"/><text x="807" y="329">Spliced Env mRNA</text></g>
<g id="n_gp160" class="nd"><rect x="887" y="328" width="42" height="20"/><text x="908" y="335.75"><tspan x="908">Envelope</tspan><tspan x="908" dy="4.5">glycoprotein gp160</tspan></text></g>
<g id="n_rangtp1" class="nd"><rect x="666" y="324" width="26" height="9"/><text x="679" y="328.5">Ran-GTP</text></g>
<g id="n_rangdp1" class="nd"><rect x="704" y="330" width="50" height="9"/><text x="729" y="334.5">Ran GTPase:GDP</text></g>
<g id="n_pi1" class="nd bl"><rect x="726" y="353" width="11" height="13"/><text x="731.5" y="359.5">Pi</text></g>
<g id="n_gdp" class="nd bl"><rect x="608" y="402" width="19" height="14"/><text x="617.5" y="409">GDP</text></g>
<g id="n_rcc1" class="nd"><rect x="642" y="403" width="20" height="9"/><text x="652" y="407.5">RCC1</text></g>
<g id="n_rangdp2" class="nd"><rect x="676" y="407" width="31" height="9"/><text x="691.5" y="411.5">Ran-GDP</text></g>
<g id="n_rangtp2" class="nd"><rect x="575" y="422" width="31" height="10"/><text x="590.5" y="427">Ran-GTP</text></g>
<g id="n_gtp" class="nd bl"><rect x="688" y="431" width="19" height="13"/><text x="697.5" y="437.5">GTP</text></g>
<g id="n_revm2" class="nd"><rect x="832" y="429" width="35" height="10"/><text x="849.5" y="434">Rev-multimer</text></g>
<g id="n_revc2" class="nd"><rect x="476" y="444" width="54" height="20"/><text x="503" y="449.5"><tspan x="503">Rev multimer-bound</tspan><tspan x="503" dy="4.5">HIV-1</tspan><tspan x="503" dy="4.5">mRNA:Crm1:Ran:GTP</tspan></text></g>
<g id="n_revc3" class="nd"><rect x="616" y="444" width="53" height="21"/><text x="642.5" y="450"><tspan x="642.5">Rev multimer-bound</tspan><tspan x="642.5" dy="4.5">HIV-1 mRNA:CRM1</tspan><tspan x="642.5" dy="4.5">complex</tspan></text></g>
<g id="n_revmb" class="nd"><rect x="732" y="447" width="54" height="15"/><text x="759" y="452.25"><tspan x="759">Rev multimer-bound</tspan><tspan x="759" dy="4.5">HIV-1 mRNA</tspan></text></g>
<g id="n_xpo1b" class="nd"><rect x="708" y="463" width="20" height="10"/><text x="718" y="468">XPO1</text></g>
<g id="n_hivmrna" class="nd"><rect x="909" y="440" width="47" height="17"/><text x="932.5" y="448.5">HIV-1 mRNA</text></g>
<g id="n_revbound" class="nd"><rect x="823" y="464" width="54" height="16"/><text x="850" y="472">Rev-bound HIV-1 mRNA</text></g>
<g id="n_rev2" class="nd"><rect x="901" y="479" width="40" height="14"/><text x="921" y="486">REV (P04618) protein</text></g>
<g id="n_tat_abort" class="nd"><rect x="1037" y="378" width="54" height="17"/><text x="1064" y="382"><tspan x="1064">HIV-1 Tat-containing</tspan><tspan x="1064" dy="4.5">aborted elongation</tspan><tspan x="1064" dy="4.5">complex after arrest</tspan></text></g>
<g id="n_tat_arr" class="nd"><rect x="1123" y="399" width="54" height="27"/><text x="1150" y="408"><tspan x="1150">HIV-1 Tat-containing</tspan><tspan x="1150" dy="4.5">arrested processive</tspan><tspan x="1150" dy="4.5">elongation complex</tspan></text></g>
<g id="n_tat_paused" class="nd"><rect x="986" y="411" width="54" height="26"/><text x="1013" y="419.5"><tspan x="1013">HIV-1 Tat-containing</tspan><tspan x="1013" dy="4.5">paused processive</tspan><tspan x="1013" dy="4.5">elongation complex</tspan></text></g>
<g id="n_tat_proc" class="nd"><rect x="1126" y="451" width="54" height="26"/><text x="1153" y="459.5"><tspan x="1153">HIV-1 Tat-containing</tspan><tspan x="1153" dy="4.5">processive</tspan><tspan x="1153" dy="4.5">elongation complex</tspan></text></g>
<g id="n_tat_prior" class="nd"><rect x="986" y="448" width="55" height="20"/><text x="1013.5" y="453.5"><tspan x="1013.5">Tat-containing</tspan><tspan x="1013.5" dy="4.5">elongation complex</tspan><tspan x="1013.5" dy="4.5">prior to separation</tspan></text></g>
<g id="n_ntp1" class="nd bl"><rect x="1079" y="473" width="19" height="12"/><text x="1088.5" y="479">NTP</text></g>
<g id="n_tfiih1" class="nd"><rect x="1207" y="488" width="25" height="12"/><text x="1219.5" y="494">TFIIH</text></g>
<g id="n_tat_dsif" class="nd"><rect x="1018" y="481" width="54" height="43"/><text x="1045" y="488.5"><tspan x="1045">Tat-containing early</tspan><tspan x="1045" dy="4.5">elongation complex</tspan><tspan x="1045" dy="4.5">with</tspan><tspan x="1045" dy="4.5">hyperphosphorylated</tspan><tspan x="1045" dy="4.5">Pol II CTD</tspan><tspan x="1045" dy="4.5">phospho-NELF phospho-</tspan><tspan x="1045" dy="4.5">DSIF</tspan></text></g>
<g id="n_ptefb_el" class="nd"><rect x="950" y="507" width="53" height="32"/><text x="976.5" y="514"><tspan x="976.5">P-TEFb(Cyclin</tspan><tspan x="976.5" dy="4.5">T1:Cdk9)-containing</tspan><tspan x="976.5" dy="4.5">elongation complex</tspan><tspan x="976.5" dy="4.5">with separated and</tspan><tspan x="976.5" dy="4.5">uncleaved transcript</tspan></text></g>
<g id="n_atp1" class="nd bl"><rect x="1012" y="542" width="19" height="13"/><text x="1021.5" y="548.5">ATP</text></g>
<g id="n_adp1" class="nd bl"><rect x="1052" y="538" width="18" height="13"/><text x="1061" y="544.5">ADP</text></g>
<g id="n_el_tat" class="nd"><rect x="1157" y="547" width="54" height="21"/><text x="1184" y="553"><tspan x="1184">HIV-1 elongation</tspan><tspan x="1184" dy="4.5">complex containing</tspan><tspan x="1184" dy="4.5">Tat</tspan></text></g>
<g id="n_tfiih2" class="nd"><rect x="1106" y="568" width="20" height="9"/><text x="1116" y="572.5">TFIIH</text></g>
<g id="n_tat_nelf" class="nd"><rect x="955" y="575" width="55" height="37"/><text x="982.5" y="582.25"><tspan x="982.5">Tat-containing early</tspan><tspan x="982.5" dy="4.5">elongation complex</tspan><tspan x="982.5" dy="4.5">with</tspan><tspan x="982.5" dy="4.5">hyperphosphorylated</tspan><tspan x="982.5" dy="4.5">Pol II CTD and</tspan><tspan x="982.5" dy="4.5">phospho-NELF</tspan></text></g>
<g id="n_fact" class="nd"><rect x="975" y="654" width="42" height="9"/><text x="996" y="658.5">FACT complex</text></g>
<g id="n_ell" class="nd"><rect x="988" y="674" width="53" height="15"/><text x="1014.5" y="681.5">ELL</text></g>
<g id="n_elongin" class="nd"><rect x="1014" y="710" width="46" height="9"/><text x="1037" y="714.5">Elongin Complex</text></g>
<g id="n_tcea1" class="nd"><rect x="1053" y="750" width="35" height="14"/><text x="1070.5" y="757">TCEA1</text></g>
<g id="n_gtf2b1" class="nd"><rect x="1028" y="788" width="15" height="9"/><text x="1035.5" y="792.5">GTF2B</text></g>
<g id="n_pol2a" class="nd"><rect x="1093" y="778" width="54" height="21"/><text x="1120" y="784"><tspan x="1120">RNA Polymerase II</tspan><tspan x="1120" dy="4.5">(unphosphorylated):TFIIF</tspan><tspan x="1120" dy="4.5">complex</tspan></text></g>
<g id="n_4nt" class="nd"><rect x="957" y="796" width="54" height="26"/><text x="984" y="802.25"><tspan x="984">HIV-1 transcription</tspan><tspan x="984" dy="4.5">complex containing 4</tspan><tspan x="984" dy="4.5">nucleotide long</tspan><tspan x="984" dy="4.5">transcript</tspan></text></g>
<g id="n_ntp2" class="nd bl"><rect x="1136" y="827" width="19" height="13"/><text x="1145.5" y="833.5">NTP</text></g>
<g id="n_ppi2" class="nd bl"><rect x="1011" y="842" width="15" height="12"/><text x="1018.5" y="848">PPi</text></g>
<g id="n_tfiih3" class="nd"><rect x="1057" y="840" width="25" height="11"/><text x="1069.5" y="845.5">TFIIH</text></g>
<g id="n_3nt" class="nd"><rect x="1093" y="884" width="54" height="27"/><text x="1120" y="890.75"><tspan x="1120">HIV-1 transcription</tspan><tspan x="1120" dy="4.5">complex containing 3</tspan><tspan x="1120" dy="4.5">nucleotide long</tspan><tspan x="1120" dy="4.5">transcript</tspan></text></g>
<g id="n_tfiih4" class="nd"><rect x="1061" y="894" width="19" height="16"/><text x="1070.5" y="902">TFIIH</text></g>
<g id="n_ntp3" class="nd bl"><rect x="1022" y="907" width="18" height="13"/><text x="1031" y="913.5">NTP</text></g>
<g id="n_htc" class="nd"><rect x="963" y="918" width="51" height="18"/><text x="988.5" y="924.75"><tspan x="988.5">HIV-1 transcription</tspan><tspan x="988.5" dy="4.5">complex</tspan></text></g>
<g id="n_pol2b" class="nd"><rect x="1041" y="949" width="54" height="21"/><text x="1068" y="955"><tspan x="1068">RNA Polymerase II</tspan><tspan x="1068" dy="4.5">(unphosphorylated):TFIIF</tspan><tspan x="1068" dy="4.5">complex</tspan></text></g>
<g id="n_ppi3" class="nd bl"><rect x="1117" y="939" width="15" height="13"/><text x="1124.5" y="945.5">PPi</text></g>
<g id="n_proc" class="nd"><rect x="1035" y="1002" width="54" height="15"/><text x="1062" y="1007.25"><tspan x="1062">HIV-1 processive</tspan><tspan x="1062" dy="4.5">elongation complex</tspan></text></g>
<g id="n_arr" class="nd"><rect x="1130" y="1007" width="54" height="21"/><text x="1157" y="1013"><tspan x="1157">HIV-1 arrested</tspan><tspan x="1157" dy="4.5">processive</tspan><tspan x="1157" dy="4.5">elongation complex</tspan></text></g>
<g id="n_paused" class="nd"><rect x="1033" y="1064" width="54" height="21"/><text x="1060" y="1070"><tspan x="1060">HIV-1 paused</tspan><tspan x="1060" dy="4.5">processive</tspan><tspan x="1060" dy="4.5">elongation complex</tspan></text></g>
<g id="n_aborted" class="nd"><rect x="1130" y="1056" width="54" height="21"/><text x="1157" y="1062"><tspan x="1157">HIV-1 aborted</tspan><tspan x="1157" dy="4.5">elongation complex</tspan><tspan x="1157" dy="4.5">after arrest</tspan></text></g>
<g id="n_invdna" class="nd"><rect x="946" y="1122" width="55" height="22"/><text x="973.5" y="1128.5"><tspan x="973.5">IN:viral DNA bound</tspan><tspan x="973.5" dy="4.5">to host genomic DNA</tspan><tspan x="973.5" dy="4.5">with staggered ends</tspan></text></g>
<g id="n_auto1" class="nd"><rect x="1011" y="1122" width="49" height="21"/><text x="1035.5" y="1128"><tspan x="1035.5">Autointegrated viral</tspan><tspan x="1035.5" dy="4.5">DNA as an inverted</tspan><tspan x="1035.5" dy="4.5">circle</tspan></text></g>
<g id="n_vpic1" class="nd"><rect x="1079" y="1162" width="41" height="16"/><text x="1099.5" y="1170">viral PIC proteins</text></g>
<g id="n_in1" class="nd"><rect x="1002" y="1179" width="46" height="15"/><text x="1025" y="1184.25"><tspan x="1025">IN (Integrase)</tspan><tspan x="1025" dy="4.5">(P04585) protein</tspan></text></g>
<g id="n_auto2" class="nd"><rect x="1087" y="1247" width="60" height="15"/><text x="1117" y="1250"><tspan x="1117">Autointegrated viral</tspan><tspan x="1117" dy="4.5">DNA as smaller</tspan><tspan x="1117" dy="4.5">circles</tspan></text></g>
<g id="n_hpol_capped" class="nd"><rect x="342" y="509" width="49" height="28"/><text x="366.5" y="518.5"><tspan x="366.5">HIV-1 Polymerase II</tspan><tspan x="366.5" dy="4.5">(phosphorylated):TFIIF capped</tspan><tspan x="366.5" dy="4.5">pre-mRNA</tspan></text></g>
<g id="n_cbc1" class="nd"><rect x="416" y="529" width="47" height="15"/><text x="439.5" y="534.25"><tspan x="439.5">Cap Binding Complex</tspan><tspan x="439.5" dy="4.5">(CBC)</tspan></text></g>
<g id="n_ptefb" class="nd"><rect x="550" y="517" width="49" height="9"/><text x="574.5" y="521.5">P-TEFb complex</text></g>
<g id="n_aborted_early" class="nd"><rect x="581" y="574" width="53" height="15"/><text x="607.5" y="579.25"><tspan x="607.5">Aborted HIV-1 early</tspan><tspan x="607.5" dy="4.5">elongation complex</tspan></text></g>
<g id="n_dsif" class="nd"><rect x="495" y="608" width="38" height="9"/><text x="514" y="612.5">DSIF complex</text></g>
<g id="n_ctdp1" class="nd"><rect x="401" y="616" width="39" height="10"/><text x="420.5" y="621">CTDP1</text></g>
<g id="n_pol_capped" class="nd"><rect x="469" y="622" width="54" height="27"/><text x="496" y="631"><tspan x="496">RNA Pol II</tspan><tspan x="496" dy="4.5">(hypophosphorylated) capped</tspan><tspan x="496" dy="4.5">pre-mRNA complex</tspan></text></g>
<g id="n_pol_dsif" class="nd"><rect x="569" y="607" width="54" height="26"/><text x="596" y="613.25"><tspan x="596">RNA Pol II</tspan><tspan x="596" dy="4.5">(hypophosphorylated)</tspan><tspan x="596" dy="4.5">complex bound to</tspan><tspan x="596" dy="4.5">DSIF protein</tspan></text></g>
<g id="n_nelf" class="nd"><rect x="602" y="641" width="43" height="9"/><text x="623.5" y="645.5">NELF complex</text></g>
<g id="n_capped_cbc" class="nd"><rect x="339" y="631" width="54" height="27"/><text x="366" y="637.75"><tspan x="366">HIV-1 capped</tspan><tspan x="366" dy="4.5">pre-mRNA:CBC:RNA Pol</tspan><tspan x="366" dy="4.5">II (phosphorylated)</tspan><tspan x="366" dy="4.5">complex</tspan></text></g>
<g id="n_tfiih5" class="nd"><rect x="410" y="668" width="19" height="9"/><text x="419.5" y="672.5">TFIIH</text></g>
<g id="n_ppi4" class="nd bl"><rect x="569" y="667" width="15" height="12"/><text x="576.5" y="673">PPi</text></g>
<g id="n_ser5" class="nd"><rect x="344" y="682" width="52" height="45"/><text x="370" y="695.5"><tspan x="370">HIV-1 transcription</tspan><tspan x="370" dy="4.5">complex with (ser5)</tspan><tspan x="370" dy="4.5">phosphorylated CTD</tspan><tspan x="370" dy="4.5">containing extruded</tspan><tspan x="370" dy="4.5">transcript to +30</tspan></text></g>
<g id="n_extr" class="nd"><rect x="439" y="687" width="54" height="27"/><text x="466" y="693.75"><tspan x="466">HIV-1 transcription</tspan><tspan x="466" dy="4.5">complex containing</tspan><tspan x="466" dy="4.5">extruded transcript</tspan><tspan x="466" dy="4.5">to +30</tspan></text></g>
<g id="n_30" class="nd"><rect x="515" y="690" width="54" height="21"/><text x="542" y="696"><tspan x="542">HIV-1 transcription</tspan><tspan x="542" dy="4.5">complex containing</tspan><tspan x="542" dy="4.5">transcript to +30</tspan></text></g>
<g id="n_pol2c" class="nd"><rect x="576" y="717" width="54" height="21"/><text x="603" y="723"><tspan x="603">RNA Polymerase II</tspan><tspan x="603" dy="4.5">(unphosphorylated):TFIIF</tspan><tspan x="603" dy="4.5">complex</tspan></text></g>
<g id="n_rngtt" class="nd"><rect x="333" y="762" width="42" height="15"/><text x="354" y="769.5">RNGTT</text></g>
<g id="n_49nt" class="nd"><rect x="445" y="772" width="54" height="27"/><text x="472" y="778.75"><tspan x="472">HIV-1 transcription</tspan><tspan x="472" dy="4.5">complex containing</tspan><tspan x="472" dy="4.5">4-9 nucleotide long</tspan><tspan x="472" dy="4.5">transcript</tspan></text></g>
<g id="n_ce" class="nd"><rect x="360" y="798" width="46" height="21"/><text x="383" y="804"><tspan x="383">RNA Pol II with</tspan><tspan x="383" dy="4.5">phosphorylated CTD:</tspan><tspan x="383" dy="4.5">CE complex</tspan></text></g>
<g id="n_hybrid" class="nd"><rect x="498" y="808" width="50" height="21"/><text x="523" y="814"><tspan x="523">HIV-1 template</tspan><tspan x="523" dy="4.5">DNA:4-9 nucleotide</tspan><tspan x="523" dy="4.5">transcript hybrid</tspan></text></g>
<g id="n_ce_gt" class="nd"><rect x="351" y="843" width="53" height="26"/><text x="377.5" y="849.25"><tspan x="377.5">RNA Pol II with</tspan><tspan x="377.5" dy="4.5">phosphorylated CTD:</tspan><tspan x="377.5" dy="4.5">CE complex with</tspan><tspan x="377.5" dy="4.5">activated GT</tspan></text></g>
<g id="n_ptefb_cyc" class="nd"><rect x="629" y="545" width="54" height="14"/><text x="656" y="549.75"><tspan x="656">P-TEFb(Cyclin</tspan><tspan x="656" dy="4.5">T1:Cdk9) complex</tspan></text></g>
<g id="n_tat" class="nd"><rect x="717" y="538" width="42" height="9"/><text x="738" y="542.5">Tat (P04608)</text></g>
<g id="n_tat_ptefb" class="nd"><rect x="720" y="564" width="50" height="15"/><text x="745" y="569.25"><tspan x="745">Tat:P-TEFb(Cyclin</tspan><tspan x="745" dy="4.5">T1:Cdk9) complex</tspan></text></g>
<g id="n_early_hyp" class="nd"><rect x="863" y="504" width="54" height="32"/><text x="890" y="511"><tspan x="890">HIV-1 early</tspan><tspan x="890" dy="4.5">elongation complex</tspan><tspan x="890" dy="4.5">with</tspan><tspan x="890" dy="4.5">hyperphosphorylated</tspan><tspan x="890" dy="4.5">Pol II CTD</tspan></text></g>
<g id="n_cbc2" class="nd"><rect x="808" y="539" width="39" height="23"/><text x="827.5" y="548.25"><tspan x="827.5">Cap Binding Complex</tspan><tspan x="827.5" dy="4.5">(CBC)</tspan></text></g>
<g id="n_tat_early" class="nd"><rect x="825" y="578" width="54" height="32"/><text x="852" y="585"><tspan x="852">Tat-containing early</tspan><tspan x="852" dy="4.5">elongation complex</tspan><tspan x="852" dy="4.5">with</tspan><tspan x="852" dy="4.5">hyperphosphorylated</tspan><tspan x="852" dy="4.5">Pol II CTD</tspan></text></g>
<g id="n_atp2" class="nd bl"><rect x="898" y="571" width="18" height="13"/><text x="907" y="577.5">ATP</text></g>
<g id="n_adp2" class="nd bl"><rect x="930" y="612" width="18" height="13"/><text x="939" y="618.5">ADP</text></g>
<g id="n_dsif_nelf" class="nd"><rect x="667" y="598" width="53" height="14"/><text x="693.5" y="602.75"><tspan x="693.5">DSIF:NELF early</tspan><tspan x="693.5" dy="4.5">elongation complex</tspan></text></g>
<g id="n_ntp4" class="nd bl"><rect x="657" y="647" width="19" height="13"/><text x="666.5" y="653.5">NTP</text></g>
<g id="n_dsif_lim" class="nd"><rect x="727" y="624" width="54" height="27"/><text x="754" y="630.75"><tspan x="754">DSIF:NELF early</tspan><tspan x="754" dy="4.5">elongation complex</tspan><tspan x="754" dy="4.5">after limited</tspan><tspan x="754" dy="4.5">nucleotide addition</tspan></text></g>
<g id="n_early_sep" class="nd"><rect x="814" y="622" width="50" height="26"/><text x="839" y="628.25"><tspan x="839">Early elongation</tspan><tspan x="839" dy="4.5">complex with</tspan><tspan x="839" dy="4.5">separated aborted</tspan><tspan x="839" dy="4.5">transcript</tspan></text></g>
<g id="n_pol2d" class="nd"><rect x="734" y="659" width="54" height="21"/><text x="761" y="665"><tspan x="761">RNA Polymerase II</tspan><tspan x="761" dy="4.5">(unphosphorylated):TFIIF</tspan><tspan x="761" dy="4.5">complex</tspan></text></g>
<g id="n_elong" class="nd"><rect x="799" y="671" width="46" height="15"/><text x="822" y="676.25"><tspan x="822">HIV-1 elongation</tspan><tspan x="822" dy="4.5">complex</tspan></text></g>
<g id="n_tfiih6" class="nd"><rect x="875" y="677" width="28" height="10"/><text x="889" y="682">TFIIH</text></g>
<g id="n_11nt" class="nd"><rect x="640" y="686" width="54" height="27"/><text x="667" y="692.75"><tspan x="667">HIV-1 transcription</tspan><tspan x="667" dy="4.5">complex containing</tspan><tspan x="667" dy="4.5">11 nucleotide long</tspan><tspan x="667" dy="4.5">transcript</tspan></text></g>
<g id="n_ppi5" class="nd bl"><rect x="737" y="723" width="15" height="13"/><text x="744.5" y="729.5">PPi</text></g>
<g id="n_5nt" class="nd"><rect x="794" y="781" width="54" height="27"/><text x="821" y="787.75"><tspan x="821">HIV-1 transcription</tspan><tspan x="821" dy="4.5">complex containing 5</tspan><tspan x="821" dy="4.5">nucleotide long</tspan><tspan x="821" dy="4.5">transcript</tspan></text></g>
<g id="n_pol2e" class="nd"><rect x="870" y="767" width="54" height="21"/><text x="897" y="773"><tspan x="897">RNA Polymerase II</tspan><tspan x="897" dy="4.5">(unphosphorylated):TFIIF</tspan><tspan x="897" dy="4.5">complex</tspan></text></g>
<g id="n_ntp5" class="nd bl"><rect x="927" y="784" width="19" height="13"/><text x="936.5" y="790.5">NTP</text></g>
<g id="n_ppi6" class="nd bl"><rect x="894" y="820" width="16" height="13"/><text x="902" y="826.5">PPi</text></g>
<g id="n_tfiie" class="nd"><rect x="809" y="850" width="15" height="9"/><text x="816.5" y="854.5">TFIIE</text></g>
<g id="n_tfiia1" class="nd"><rect x="834" y="854" width="15" height="9"/><text x="841.5" y="858.5">TFIIA</text></g>
<g id="n_tfiid1" class="nd"><rect x="857" y="850" width="15" height="8"/><text x="864.5" y="854">TFIID</text></g>
<g id="n_rnmt" class="nd"><rect x="400" y="877" width="50" height="15"/><text x="425" y="884.5">RNMT</text></g>
<g id="n_psupt" class="nd"><rect x="348" y="884" width="29" height="9"/><text x="362.5" y="888.5">p-SUPT5H</text></g>
<g id="n_cespt5" class="nd"><rect x="355" y="913" width="42" height="15"/><text x="376" y="918.25"><tspan x="376">CE:Pol II CTD:Spt5</tspan><tspan x="376" dy="4.5">complex</tspan></text></g>
<g id="n_closed" class="nd"><rect x="536" y="873" width="50" height="16"/><text x="561" y="876.5"><tspan x="561">HIV-1 closed</tspan><tspan x="561" dy="4.5">pre-initiation</tspan><tspan x="561" dy="4.5">complex</tspan></text></g>
<g id="n_atp3" class="nd bl"><rect x="621" y="908" width="18" height="14"/><text x="630" y="915">ATP</text></g>
<g id="n_tfiih7" class="nd"><rect x="493" y="925" width="29" height="10"/><text x="507.5" y="930">TFIIH</text></g>
<g id="n_tmpl_first" class="nd"><rect x="574" y="941" width="50" height="32"/><text x="599" y="948"><tspan x="599">HIV-1 template DNA</tspan><tspan x="599" dy="4.5">with first</tspan><tspan x="599" dy="4.5">transcript</tspan><tspan x="599" dy="4.5">dinucleotide, opened</tspan><tspan x="599" dy="4.5">to +8 position</tspan></text></g>
<g id="n_tfiib" class="nd"><rect x="465" y="1008" width="15" height="9"/><text x="472.5" y="1012.5">TFIIB</text></g>
<g id="n_pol2f" class="nd"><rect x="556" y="1017" width="54" height="20"/><text x="583" y="1022.5"><tspan x="583">RNA Polymerase II</tspan><tspan x="583" dy="4.5">(unphosphorylated):TFIIF</tspan><tspan x="583" dy="4.5">complex</tspan></text></g>
<g id="n_gtf2b2" class="nd"><rect x="640" y="1058" width="16" height="9"/><text x="648" y="1062.5">GTF2B</text></g>
<g id="n_lig1" class="nd"><rect x="339" y="1138" width="35" height="12"/><text x="356.5" y="1144">LIG1</text></g>
<g id="n_fen1" class="nd"><rect x="332" y="1162" width="55" height="15"/><text x="359.5" y="1169.5">FEN1</text></g>
<g id="n_escape" class="nd"><rect x="391" y="1192" width="50" height="16"/><text x="416" y="1197.75"><tspan x="416">HIV-1 Promoter</tspan><tspan x="416" dy="4.5">Escape Complex</tspan></text></g>
<g id="n_tmpl_prom" class="nd"><rect x="461" y="1219" width="50" height="27"/><text x="486" y="1225.75"><tspan x="486">HIV-1 template DNA</tspan><tspan x="486" dy="4.5">containing promoter</tspan><tspan x="486" dy="4.5">with transcript of</tspan><tspan x="486" dy="4.5">2 or 3 nucleotides</tspan></text></g>
<g id="n_ku1" class="nd"><rect x="595" y="1218" width="54" height="15"/><text x="622" y="1223.25"><tspan x="622">Ku proteins bound to</tspan><tspan x="622" dy="4.5">viral DNA</tspan></text></g>
<g id="n_insticky1" class="nd"><rect x="334" y="1258" width="65" height="15"/><text x="366.5" y="1261"><tspan x="366.5">IN bound to sticky</tspan><tspan x="366.5" dy="4.5">3' ends of viral DNA</tspan><tspan x="366.5" dy="4.5">in PIC</tspan></text></g>
<g id="n_ntp6" class="nd bl"><rect x="724" y="893" width="19" height="14"/><text x="733.5" y="900">NTP</text></g>
<g id="n_ppi7" class="nd bl"><rect x="945" y="901" width="16" height="13"/><text x="953" y="907.5">PPi</text></g>
<g id="n_open" class="nd"><rect x="673" y="919" width="47" height="16"/><text x="696.5" y="922.5"><tspan x="696.5">HIV-1 open</tspan><tspan x="696.5" dy="4.5">pre-initiation</tspan><tspan x="696.5" dy="4.5">complex</tspan></text></g>
<g id="n_initc" class="nd"><rect x="773" y="918" width="41" height="17"/><text x="793.5" y="924.25"><tspan x="793.5">HIV-1 initiation</tspan><tspan x="793.5" dy="4.5">complex</tspan></text></g>
<g id="n_initpd" class="nd"><rect x="848" y="914" width="50" height="27"/><text x="873" y="920.75"><tspan x="873">HIV-1 initiation</tspan><tspan x="873" dy="4.5">complex with</tspan><tspan x="873" dy="4.5">phosphodiester-PPi</tspan><tspan x="873" dy="4.5">intermediate</tspan></text></g>
<g id="n_pi2" class="nd bl"><rect x="642" y="951" width="11" height="12"/><text x="647.5" y="957">Pi</text></g>
<g id="n_adp3" class="nd bl"><rect x="672" y="943" width="19" height="13"/><text x="681.5" y="949.5">ADP</text></g>
<g id="n_tfiia2" class="nd"><rect x="679" y="1047" width="14" height="9"/><text x="686" y="1051.5">TFIIA</text></g>
<g id="n_tfiid2" class="nd"><rect x="723" y="1043" width="21" height="9"/><text x="733.5" y="1047.5">TFIID</text></g>
<g id="n_provirus" class="nd"><rect x="750" y="1059" width="52" height="11"/><text x="776" y="1064.5">Integrated provirus</text></g>
<g id="n_intint" class="nd"><rect x="902" y="1056" width="58" height="15"/><text x="931" y="1061.25"><tspan x="931">Integration</tspan><tspan x="931" dy="4.5">intermediate</tspan></text></g>
<g id="n_vpic2" class="nd"><rect x="838" y="1136" width="40" height="16"/><text x="858" y="1144">viral PIC proteins</text></g>
<g id="n_vpic3" class="nd"><rect x="889" y="1128" width="45" height="9"/><text x="911.5" y="1132.5">viral PIC proteins</text></g>
<g id="n_2ltr" class="nd"><rect x="728" y="1146" width="50" height="15"/><text x="753" y="1151.25"><tspan x="753">2-LTR form of</tspan><tspan x="753" dy="4.5">circular viral DNA</tspan></text></g>
<g id="n_kucx" class="nd"><rect x="626" y="1153" width="55" height="20"/><text x="653.5" y="1158.5"><tspan x="653.5">viral DNA:Ku</tspan><tspan x="653.5" dy="4.5">proteins:XRCC4:DNA</tspan><tspan x="653.5" dy="4.5">ligase IV complex</tspan></text></g>
<g id="n_in2" class="nd"><rect x="800" y="1159" width="45" height="15"/><text x="822.5" y="1164.25"><tspan x="822.5">IN (Integrase)</tspan><tspan x="822.5" dy="4.5">(P04585) protein</tspan></text></g>
<g id="n_1ltr" class="nd"><rect x="778" y="1194" width="50" height="15"/><text x="803" y="1199.25"><tspan x="803">1-LTR form of</tspan><tspan x="803" dy="4.5">circular viral DNA</tspan></text></g>
<g id="n_host" class="nd"><rect x="875" y="1193" width="50" height="9"/><text x="900" y="1197.5">Host genomic DNA</text></g>
<g id="n_xrcc4" class="nd"><rect x="689" y="1212" width="54" height="15"/><text x="716" y="1217.25"><tspan x="716">XRCC4:DNA ligase IV</tspan><tspan x="716" dy="4.5">complex</tspan></text></g>
<g id="n_ku7080" class="nd"><rect x="771" y="1221" width="35" height="15"/><text x="788.5" y="1226.25"><tspan x="788.5">Ku70:Ku80</tspan><tspan x="788.5" dy="4.5">heterodimer</tspan></text></g>
<g id="n_vpic4" class="nd"><rect x="697" y="1235" width="44" height="8"/><text x="719" y="1239">viral PIC proteins</text></g>
<g id="n_ku2" class="nd"><rect x="662" y="1255" width="58" height="16"/><text x="691" y="1260.75"><tspan x="691">Ku proteins bound to</tspan><tspan x="691" dy="4.5">viral DNA</tspan></text></g>
<g id="n_insticky2" class="nd"><rect x="903" y="1247" width="58" height="22"/><text x="932" y="1253.5"><tspan x="932">IN bound to sticky</tspan><tspan x="932" dy="4.5">3' ends of viral DNA</tspan><tspan x="932" dy="4.5">in PIC</tspan></text></g>
</g>
</svg>
